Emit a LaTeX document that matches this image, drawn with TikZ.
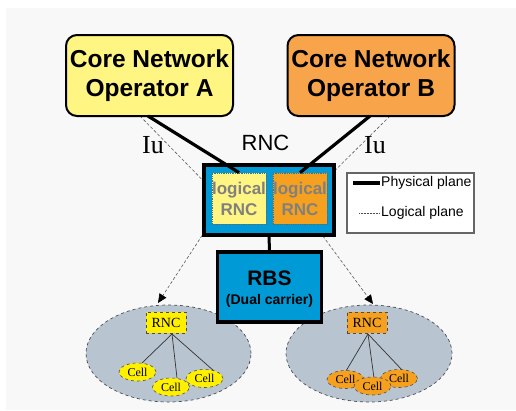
\documentclass[tikz,border=0pt]{standalone}
\usepackage{fontspec}
\setmainfont{Liberation Sans}
\newfontfamily\serifx{Liberation Serif}
\usetikzlibrary{arrows.meta,shapes.geometric}
\definecolor{bgc}{RGB}{248,248,248}
\definecolor{opA}{RGB}{255,245,130}
\definecolor{opB}{RGB}{248,164,74}
\definecolor{rncblue}{RGB}{0,155,215}
\definecolor{lyel}{RGB}{255,245,130}
\definecolor{lora}{RGB}{245,160,30}
\definecolor{cloud}{RGB}{184,196,208}
\definecolor{cyel}{RGB}{255,240,0}
\tikzset{
  opbox/.style={draw=black,line width=2pt,rounded corners=11pt,minimum width=167pt,minimum height=81pt,inner sep=0pt,align=center,font=\bfseries\fontsize{24.5}{29}\selectfont},
  bluebox/.style={draw=black,line width=3.5pt,fill=rncblue,inner sep=0pt},
  logbox/.style={draw=black!60,densely dotted,line width=0.8pt,minimum width=54pt,minimum height=51pt,inner sep=0pt,align=center,text=black!50,font=\bfseries\fontsize{17}{21}\selectfont},
  phys/.style={line width=3.2pt,black},
  logic/.style={line width=0.6pt,black!65,dash pattern=on 3pt off 2pt},
  cloudell/.style={ellipse,draw=black!70,dashed,line width=0.7pt,fill=cloud,inner sep=0pt},
  smallrnc/.style={draw=black!70,dashed,line width=0.7pt,minimum width=40pt,minimum height=21pt,inner sep=0pt,font=\serifx\fontsize{14}{16}\selectfont},
  cellell/.style={ellipse,draw=black!70,dashed,line width=0.6pt,minimum width=37pt,minimum height=18pt,inner sep=0pt,font=\serifx\fontsize{12}{14}\selectfont},
  tree/.style={line width=0.7pt,black!80},
  iulab/.style={font=\serifx\fontsize{26}{28}\selectfont,inner sep=0pt}
}
\begin{document}
\begin{tikzpicture}[x=1pt,y=-1pt]
\useasboundingbox (0,0) rectangle (516,410);
\fill[white] (0,0) rectangle (516,410);
\fill[bgc] (6,8) rectangle (516,410);

% lower clouds
\node[cloudell,minimum width=165pt,minimum height=97pt] (ellL) at (168.5,353.5) {};
\node[cloudell,minimum width=166pt,minimum height=97pt] (ellR) at (369,353.5) {};

% logical plane paths (behind boxes)
\coordinate (la0) at (140,116);
\coordinate (la1) at (224,202);
\coordinate (la2) at (158,303);
\coordinate (lb0) at (390,116);
\coordinate (lb1) at (300,205);
\coordinate (lb2) at (373,304);
\draw[logic,-{Triangle[length=9pt,width=8pt,color=black]}] (la0) -- (la1) -- (la2);
\draw[logic,-{Triangle[length=9pt,width=8pt,color=black]}] (lb0) -- (lb1) -- (lb2);

% operators
\node[opbox,fill=opA] (opA) at (149.5,75.5) {Core Network\\Operator A};
\node[opbox,fill=opB] (opB) at (371,75.5) {Core Network\\Operator B};

% RNC
\node[bluebox,minimum width=130pt,minimum height=70pt] (rnc) at (269,200) {};
\node[font=\fontsize{22}{24}\selectfont,inner sep=0pt] (rnclab) at (265.5,143) {RNC};
\node[iulab] (iuA) at (153,145) {Iu};
\node[iulab] (iuB) at (375,145) {Iu};

\node[logbox,fill=lyel] (logA) at (239,198.5) {logical\\RNC};
\node[logbox,fill=lora] (logB) at (300,198.5) {logical\\RNC};

\coordinate (pa0) at (148,116);
\coordinate (pb0) at (370,116);
\draw[phys] (pa0) -- (logA.north);
\draw[phys] (pb0) -- (logB.north);

% RBS
\node[bluebox,minimum width=104pt,minimum height=70pt] (rbs) at (269.5,287) {};
\node[anchor=base,inner sep=0pt,font=\bfseries\fontsize{21}{23}\selectfont] (rbsT) at (269.5,285) {RBS};
\node[anchor=base,inner sep=0pt,font=\bfseries\fontsize{14}{16}\selectfont] (rbsS) at (269.5,304) {(Dual carrier)};
\draw[line width=3pt] (rnc.south) -- (rbs.north);

% legend
\node[draw=black!60,line width=1.2pt,fill=white,minimum width=127pt,minimum height=60pt,inner sep=0pt] (leg) at (410.5,203) {};
\coordinate (lp1) at (353,183);
\coordinate (lp2) at (380,183);
\coordinate (ll1) at (359,213);
\coordinate (ll2) at (380,213);
\draw[line width=3.5pt] (lp1) -- (lp2);
\draw[line width=0.5pt,black!70,densely dotted] (ll1) -- (ll2);
\node[anchor=west,inner sep=1pt,font=\fontsize{14}{16}\selectfont] (legP) at (lp2) {Physical plane};
\node[anchor=west,inner sep=1pt,font=\fontsize{14}{16}\selectfont] (legL) at (ll2) {Logical plane};

% left cluster
\node[smallrnc,fill=cyel] (rncL) at (166,322.5) {RNC};
\coordinate (hubL) at (172,334);
\coordinate (tL1) at (142,363);
\coordinate (tL2) at (177,378);
\coordinate (tL3) at (214,371);
\draw[tree] (hubL) -- (tL1);
\draw[tree] (hubL) -- (tL2);
\draw[tree] (hubL) -- (tL3);
\node[cellell,fill=cyel] (cL1) at (137.5,372) {Cell};
\node[cellell,fill=cyel] (cL2) at (171,387) {Cell};
\node[cellell,fill=cyel] (cL3) at (204.5,378.5) {Cell};

% right cluster
\node[smallrnc,fill=lora] (rncR) at (367,322.5) {RNC};
\coordinate (hubR) at (368,334);
\coordinate (tR1) at (346,371);
\coordinate (tR2) at (374,378);
\coordinate (tR3) at (403,371);
\draw[tree] (hubR) -- (tR1);
\draw[tree] (hubR) -- (tR2);
\draw[tree] (hubR) -- (tR3);
\node[cellell,fill=lora] (cR1) at (345.5,379.5) {Cell};
\node[cellell,fill=lora] (cR3) at (399,378.5) {Cell};
\node[cellell,fill=lora] (cR2) at (372.5,386) {Cell};
\end{tikzpicture}
\end{document}
